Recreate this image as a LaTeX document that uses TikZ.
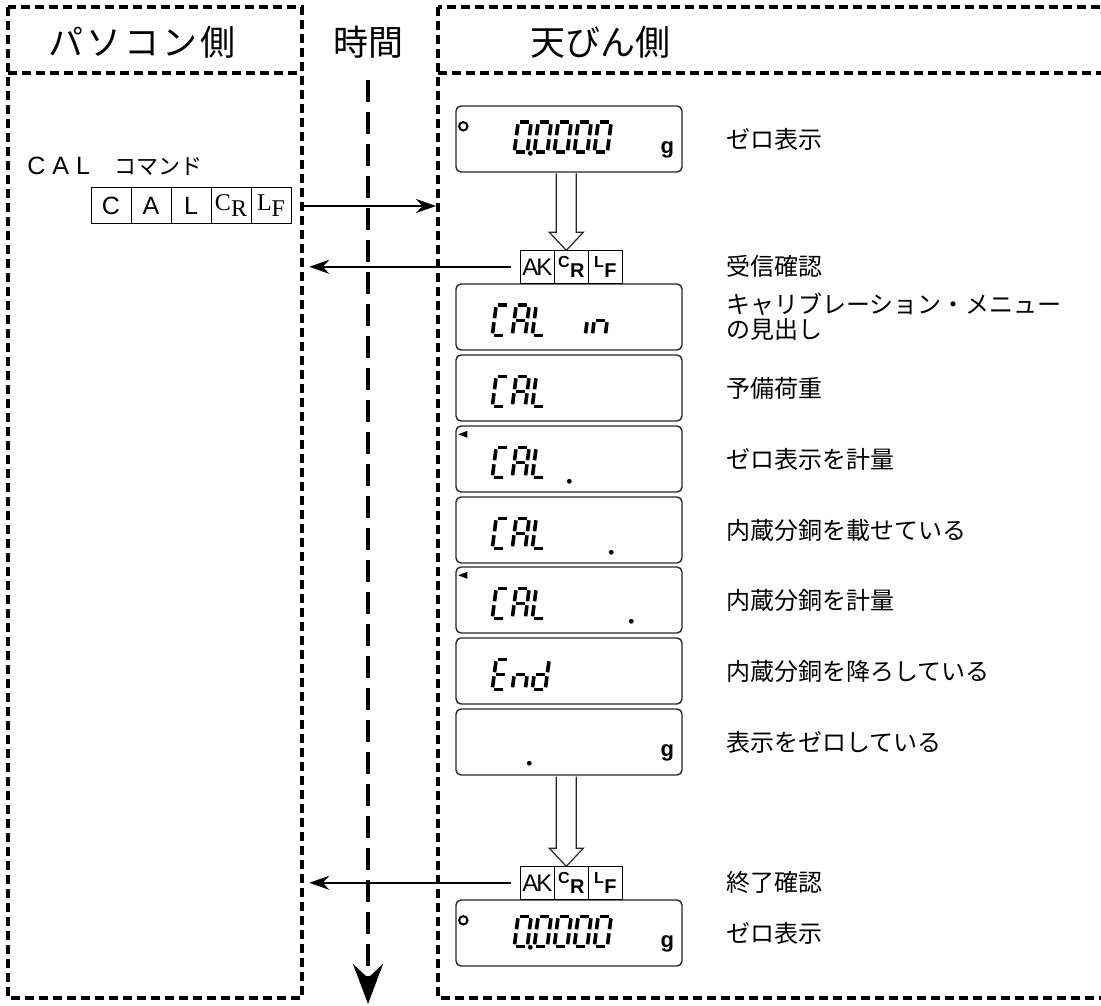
\documentclass[tikz,border=0pt]{standalone}
\usepackage{fontspec}
\setmainfont{Liberation Serif}
\setsansfont{Liberation Sans}
\newfontfamily\jp{Noto Sans CJK JP}
\usetikzlibrary{arrows.meta, positioning, calc}

% one 7-segment character: node, dx, dy (bottom, from the node's top-left), segments
\newcommand{\lcdglyph}[4]{%
  \begin{scope}[shift={(#1.north west)}, shift={(#2,#3)}, y=0.5pt, xslant=0.13]
    \foreach \sg/\pa/\pb in {a/{2,30}/{11,30}, b/{13,28}/{13,17}, c/{13,13}/{13,2},
        d/{2,0}/{11,0}, e/{0,13}/{0,2}, f/{0,28}/{0,17}, g/{2,15}/{11,15}}
      {\coordinate (s\sg1) at (\pa); \coordinate (s\sg2) at (\pb);}
    \edef\lcdsegs{#4}
    \foreach \sg in \lcdsegs {\draw[lcdseg] (s\sg1) -- (s\sg2);}
  \end{scope}}
\newcommand{\lcddot}[3]{\fill ($(#1.north west)+(#2,#3)$) circle[radius=1.2pt];}
\newcommand{\lcdmark}[1]{\fill[shift={(#1.north west)}] (3,9) -- (12,5.5) -- (12,12.5) -- cycle;}
\newcommand{\zerodisplay}[1]{%
  \draw[line width=1pt] ($(#1.north west)+(8,21)$) circle[radius=2.1pt];
  \foreach \dx in {59,79,99,119,139} {\lcdglyph{#1}{\dx}{47}{a,b,c,d,e,f}}
  \lcddot{#1}{75}{48}
  \node[gunit] (#1g) at ($(#1.north west)+(212,45)$) {g};}
\newcommand{\akpair}[2]{\bfseries\raisebox{2.5pt}{\fontsize{8pt}{8pt}\selectfont #1}\kern0.3pt\raisebox{-2.5pt}{\fontsize{10pt}{10pt}\selectfont #2}}
\newcommand{\hollowarrow}[2]{%
  \draw[hollow] let \p1=(#1.south), \p2=($(#2.north)+(-5,0)$) in
    (\x2-5pt,\y1-0.4pt) -- (\x2-5pt,\y2+9pt) -- (\x2-8.5pt,\y2+9pt) -- (\x2,\y2)
    -- (\x2+8.5pt,\y2+9pt) -- (\x2+5pt,\y2+9pt) -- (\x2+5pt,\y1-0.4pt);}

\begin{document}
\begin{tikzpicture}[x=0.5pt, y=-0.5pt,
    frame/.style={draw, line width=1.8pt, dash pattern=on 4.5pt off 2.5pt},
    hdr/.style={font=\jp\fontsize{17.5pt}{20pt}\selectfont, inner sep=0pt},
    note/.style={font=\jp\fontsize{12pt}{12.5pt}\selectfont, anchor=west, align=left, inner sep=0pt},
    lcdbox/.style={draw=black!85, line width=0.7pt, rounded corners=2.5pt,
        minimum width=113pt, minimum height=33pt, inner sep=0pt},
    lcdseg/.style={line width=1.8pt, line cap=butt},
    cmdcell/.style={draw, line width=0.5pt, minimum width=20pt, minimum height=18pt,
        inner sep=0pt, outer sep=0pt, font=\sffamily\fontsize{12.5pt}{14pt}\selectfont},
    akcell/.style={draw, line width=0.5pt, minimum width=17pt, minimum height=16.5pt,
        inner sep=0pt, outer sep=0pt, font=\sffamily\fontsize{12pt}{14pt}\selectfont},
    msg/.style={line width=1.1pt, -{Stealth[length=10pt, width=7pt]}},
    timeaxis/.style={line width=1.6pt, dash pattern=on 11pt off 5pt,
        -{Stealth[length=20pt, width=15pt, inset=7pt]}},
    hollow/.style={draw=black!85, line width=0.6pt, fill=white},
    gunit/.style={font=\sffamily\bfseries\fontsize{11pt}{12pt}\selectfont, inner sep=0pt},
]
\path[use as bounding box] (0,0) rectangle (1101,1005);
\clip (0,0) rectangle (1101,1005);

% ---- frames ----
\draw[frame] (8,7) rectangle (302,998);
\draw[frame] (8,73) -- (302,73);
\draw[frame] (438,7) rectangle (1115,998);
\draw[frame] (438,73) -- (1115,73);

% ---- headers ----
\node[hdr] (hdrPC) at (142,42) {パ\kern1.5pt ソ\kern1.5pt コ\kern1.5pt ン\kern1.5pt 側};
\node[hdr] (hdrTime) at (368,42) {時間};
\node[hdr] (hdrBal) at (600,42) {天びん側};

% ---- time axis ----
\coordinate (tTop) at (368,80);
\coordinate (tBot) at (368,1004);
\draw[timeaxis] (tTop) -- (tBot);

% ---- CAL command ----
\node[anchor=west, inner sep=0pt, font=\sffamily\fontsize{12.5pt}{14pt}\selectfont] (cmdName) at (27,166)
    {C\kern3.5pt A\kern3.5pt L\hspace{12pt}{\jp\fontsize{11pt}{13pt}\selectfont コマンド}};
\node[cmdcell] (cmdC) at (111,206) {C};
\node[cmdcell, right=0pt of cmdC] (cmdA) {A};
\node[cmdcell, right=0pt of cmdA] (cmdL) {L};
\node[cmdcell, right=0pt of cmdL, font=\rmfamily\fontsize{12pt}{14pt}\selectfont] (cmdCR) {C\raisebox{-3pt}{R}};
\node[cmdcell, right=0pt of cmdCR, font=\rmfamily\fontsize{12pt}{14pt}\selectfont] (cmdLF) {L\raisebox{-3pt}{F}};
\coordinate (balCmd) at ($(cmdLF.east)+(145,0)$);
\draw[msg, shorten <=5.5pt] (cmdLF.east) -- (balCmd);

% ---- balance displays ----
\node[lcdbox] (disp1) at (569,139) {};
\node[note, right=21.5pt of disp1] (lbl1) {ゼロ表示};
\foreach \i/\y/\txt in {2/317/{キャリブレーション・メニュー\\の見出し}, 3/388/予備荷重,
    4/459/ゼロ表示を計量, 5/530/内蔵分銅を載せている, 6/600/内蔵分銅を計量,
    7/671/内蔵分銅を降ろしている, 8/742/表示をゼロしている}{
  \node[lcdbox] (disp\i) at (569,\y) {};
  \node[note, right=21.5pt of disp\i] (lbl\i) {\txt};
}
\node[lcdbox] (disp9) at (569,933) {};
\node[note, right=21.5pt of disp9] (lbl9) {ゼロ表示};

% ---- acknowledge rows ----
\foreach \r/\d/\txt in {1/2/受信確認, 2/9/終了確認}{
  \node[akcell, anchor=south west] (ak\r A) at ($(disp\d.north west)+(65,0)$) {A\kern-1pt K};
  \node[akcell, right=0pt of ak\r A] (ak\r C) {\akpair{C}{R}};
  \node[akcell, right=0pt of ak\r C] (ak\r L) {\akpair{L}{F}};
  \node[note, xshift=21.5pt] (lblAck\r) at (disp1.east |- ak\r A) {\txt};
  \coordinate (pcAck\r) at ($(ak\r A.west)+(-211,0)$);
  \draw[msg, shorten <=4.5pt] (ak\r A.west) -- (pcAck\r);
}
\hollowarrow{disp1}{ak1C}
\hollowarrow{disp8}{ak2C}

% ---- display contents ----
\zerodisplay{disp1}
\zerodisplay{disp9}
\foreach \dx/\sgs in {37/{a,d,e,f}, 57/{a,b,c,e,f,g}, 77/{d,e,f}, 117/{c}, 137/{c,e,g}}
  {\lcdglyph{disp2}{\dx}{52}{\sgs}}
\foreach \d in {3,4,5,6}
  \foreach \dx/\sgs in {37/{a,d,e,f}, 57/{a,b,c,e,f,g}, 77/{d,e,f}}
    {\lcdglyph{disp\d}{\dx}{52}{\sgs}}
\foreach \dx/\sgs in {37/{a,d,e,f,g}, 57/{c,e,g}, 77/{b,c,d,e,g}}
  {\lcdglyph{disp7}{\dx}{52}{\sgs}}
\lcdmark{disp4}
\lcdmark{disp6}
\lcddot{disp4}{114}{56}
\lcddot{disp5}{156}{56}
\lcddot{disp6}{176}{55}
\lcddot{disp8}{74}{55}
\node[gunit] (disp8g) at ($(disp8.north west)+(212,45)$) {g};

\end{tikzpicture}
\end{document}
